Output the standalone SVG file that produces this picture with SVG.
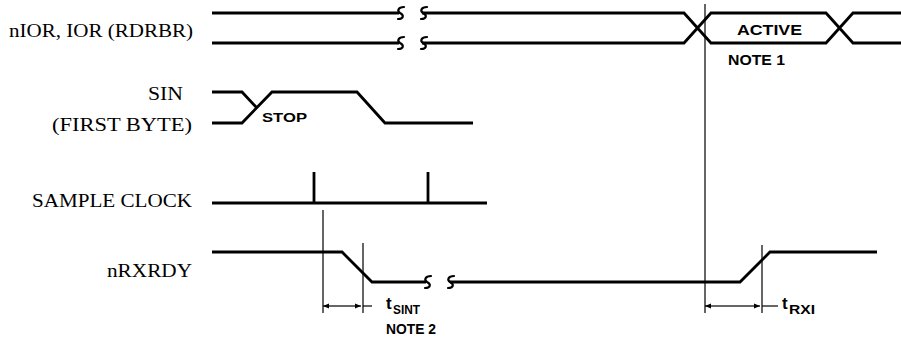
<svg xmlns="http://www.w3.org/2000/svg" width="901" height="340" viewBox="0 0 901 340">
<style>
.sig{fill:none;stroke:#000;stroke-width:2.8;stroke-linejoin:miter;stroke-linecap:butt}
.brk{fill:none;stroke:#000;stroke-width:2.2;stroke-linecap:round}
.thin{fill:none;stroke:#000;stroke-width:1.2}
.lbl{font-family:"Liberation Serif","Times New Roman",serif;font-size:19px;fill:#000}
.note{font-family:"Liberation Sans",Arial,sans-serif;font-weight:bold;fill:#000}
</style>
<defs>
<marker id="ah" viewBox="0 0 10 10" refX="10" refY="5" markerWidth="10" markerHeight="6" markerUnits="userSpaceOnUse" orient="auto-start-reverse">
<path d="M0,1 L10,5 L0,9 Z" fill="#000"/>
</marker>
</defs>
<rect width="901" height="340" fill="#fff"/>

<g id="labels">
<text class="lbl" x="9" y="37" textLength="184" lengthAdjust="spacingAndGlyphs">nIOR, IOR (RDRBR)</text>
<text class="lbl" x="148" y="100" textLength="35" lengthAdjust="spacingAndGlyphs">SIN</text>
<text class="lbl" x="52" y="131" textLength="140" lengthAdjust="spacingAndGlyphs">(FIRST BYTE)</text>
<text class="lbl" x="32" y="207" textLength="160" lengthAdjust="spacingAndGlyphs">SAMPLE CLOCK</text>
<text class="lbl" x="107" y="277" textLength="85" lengthAdjust="spacingAndGlyphs">nRXRDY</text>
</g>

<g id="nior">
<path class="sig" d="M212,13 H399 M212,43 H399"/>
<path class="brk" d="M404,7 C398,7 397,11 400,13 C404,15 404,19 398,19 M404,37 C398,37 397,41 400,43 C404,45 404,49 398,49"/>
<path class="brk" d="M427,7 C421,7 420,11 423,13 C427,15 427,19 421,19 M427,37 C421,37 420,41 423,43 C427,45 427,49 421,49"/>
<path class="sig" d="M422,13 H684 L711,43 H826 L853,13 H901 M422,43 H684 L711,13 H826 L853,43 H901"/>
<text class="note" x="737" y="35" font-size="15" textLength="65" lengthAdjust="spacingAndGlyphs">ACTIVE</text>
<text class="note" x="728" y="65" font-size="15" textLength="57" lengthAdjust="spacingAndGlyphs">NOTE 1</text>
</g>

<g id="sin">
<path class="sig" d="M212,92 H242 L257,108 M212,123 H242 L272,92 H357 L385,123 H473"/>
<text class="note" x="262" y="122" font-size="13.5" textLength="45" lengthAdjust="spacingAndGlyphs">STOP</text>
</g>

<g id="sample-clock">
<path class="sig" d="M212,203 H487 M314,203 V172 M428,203 V172"/>
</g>

<g id="nrxrdy">
<path class="sig" d="M212,252 H342 L372,282 H426"/>
<path class="brk" d="M431,276 C425,276 424,280 427,282 C431,284 431,288 425,288"/>
<path class="brk" d="M454,276 C448,276 447,280 450,282 C454,284 454,288 448,288"/>
<path class="sig" d="M450,282 H740 L770,252 H877"/>
</g>

<g id="connectors">
<path class="thin" d="M705,4 V313 M323,210 V313 M363,243 V313 M762,245 V313"/>
<path class="thin" d="M323,306 H342" marker-start="url(#ah)"/>
<path class="thin" d="M342,306 H361" marker-end="url(#ah)"/>
<path class="thin" d="M363,306 H372"/>
<path class="thin" d="M705,306 H733" marker-start="url(#ah)"/>
<path class="thin" d="M733,306 H760" marker-end="url(#ah)"/>
<path class="thin" d="M762,306 H778"/>
</g>

<g id="timing-labels">
<text class="note" x="386" y="309" font-size="17">t</text>
<text class="note" x="393" y="314" font-size="13" textLength="27" lengthAdjust="spacingAndGlyphs">SINT</text>
<text class="note" x="386" y="334" font-size="15" textLength="50" lengthAdjust="spacingAndGlyphs">NOTE 2</text>
<text class="note" x="782" y="309" font-size="17">t</text>
<text class="note" x="789" y="314" font-size="13" textLength="26" lengthAdjust="spacingAndGlyphs">RXI</text>
</g>
</svg>
